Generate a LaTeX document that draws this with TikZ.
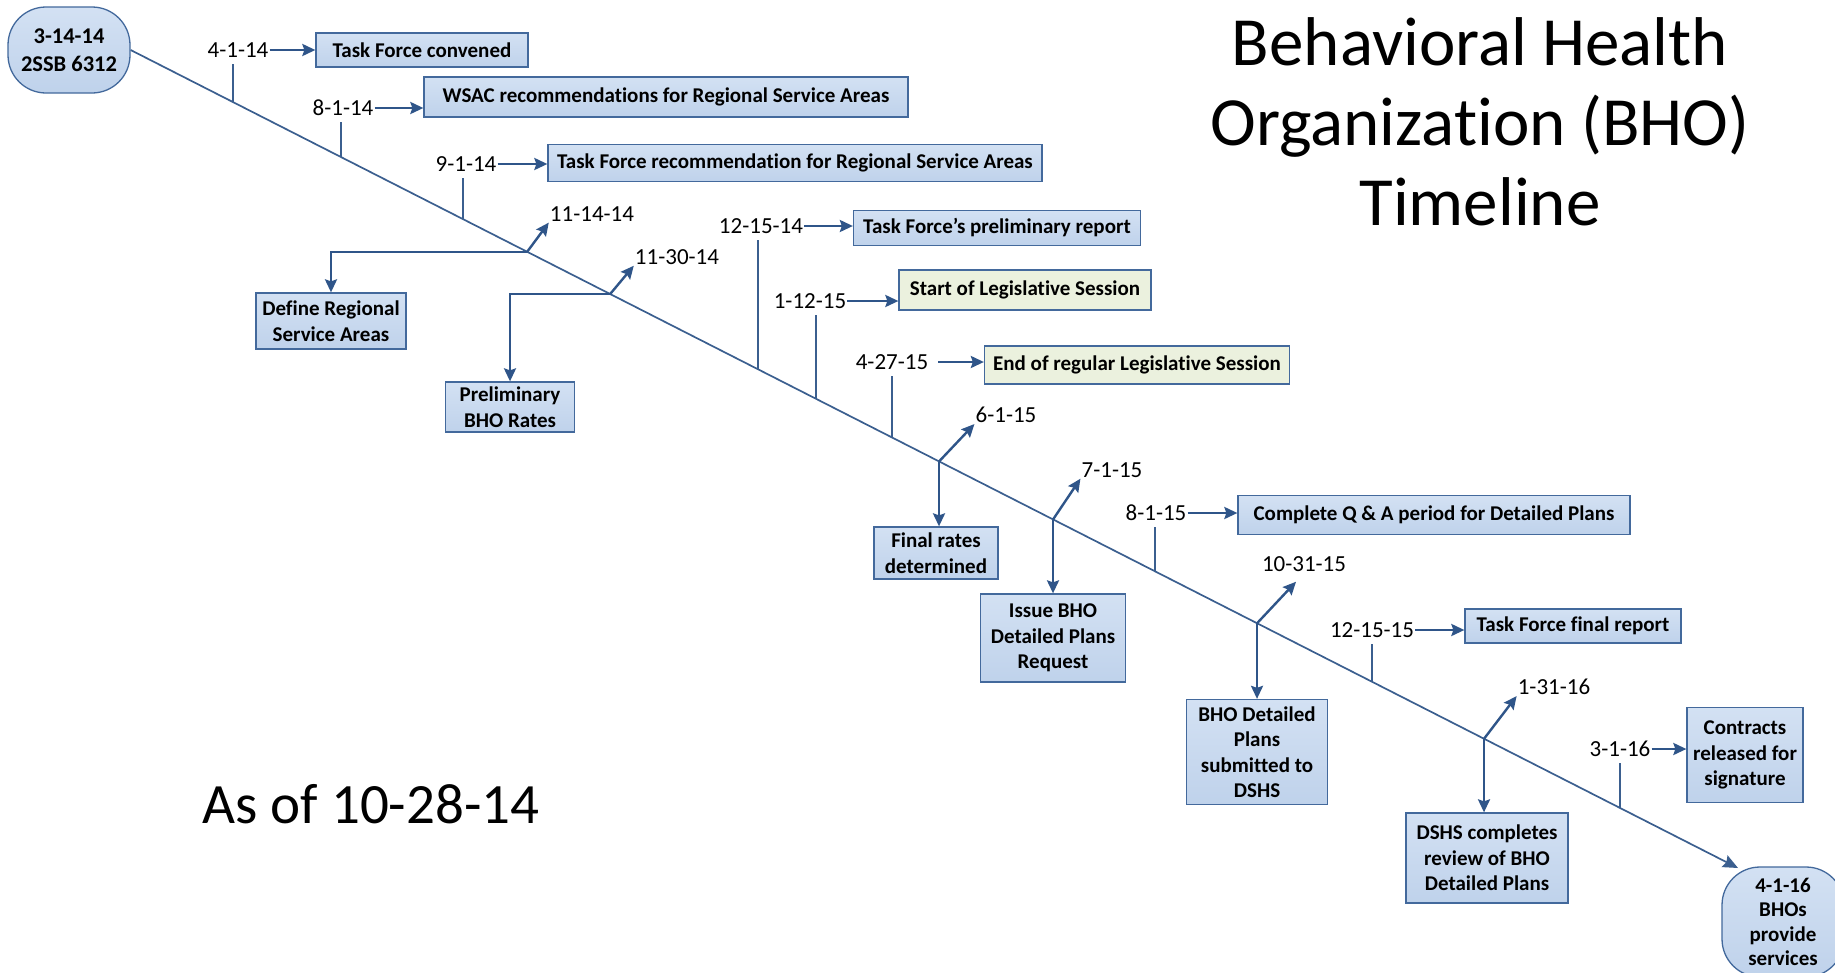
\documentclass[tikz,border=0pt]{standalone}
\usepackage{fontspec}
\setmainfont{Carlito}[Ligatures={NoCommon}]
\usetikzlibrary{arrows.meta,calc}
\definecolor{linec}{HTML}{3B5F8F}
\definecolor{arrc}{HTML}{2F5589}
\definecolor{bordc}{HTML}{43699C}
\definecolor{filltop}{HTML}{D3E1F3}
\definecolor{fillbot}{HTML}{BFD2EB}
\definecolor{greenf}{HTML}{EBF1DE}
\newcommand\boxfont{\fontsize{21}{25.5}\selectfont\bfseries}
\newcommand\datefont{\fontsize{23}{27}\selectfont}
\begin{document}
\begin{tikzpicture}[x=1pt,y=-1pt,
  box/.style={draw=bordc, line width=1.3pt, top color=filltop, bottom color=fillbot, font=\boxfont, align=center, inner sep=0pt},
  gbox/.style={box, top color=greenf, bottom color=greenf},
  term/.style={box, rounded corners=38pt},
  date/.style={font=\datefont, inner sep=1pt},
  mainln/.style={draw=linec, line width=1.7pt},
  tickln/.style={draw=linec, line width=1.4pt},
  arr/.style={draw=arrc, line width=2.4pt, -{Stealth[length=13pt,width=12pt,inset=2pt]}},
]
\useasboundingbox (0,0) rectangle (1835,972);
\fill[white] (0,0) rectangle (1835,972);

% title and note
\node[font=\fontsize{69}{80}\selectfont, align=center] (title) at (1480,122) {Behavioral Health\\Organization (BHO)\\Timeline};
\node[font=\fontsize{57}{60}\selectfont] (asof) at (371,804) {As of 10-28-14};

% terminals and main line
\node[term, minimum width=122, minimum height=86, font=\fontsize{22.5}{28}\selectfont\bfseries] (start) at (69,50) {3-14-14\\2SSB 6312};
\node[term, minimum width=122, minimum height=110, font=\fontsize{21}{24.5}\selectfont\bfseries] (endn) at (1783,922) {4-1-16\\BHOs\\provide\\services};
\coordinate (tip) at (1738,868);
\draw[mainln, -{Stealth[length=15pt,width=13pt,inset=2pt]}] (start.east) -- (tip);

% 4-1-14
\node[date] (d1) at (238,50) {4-1-14};
\node[box, minimum width=212, minimum height=34] (b1) at (422,50) {Task Force convened};
\draw[arr] (d1.east) -- (d1.east -| b1.west);
\coordinate (p1) at (233,102.4);
\draw[tickln] (p1) -- ($(p1 |- d1.south)+(0,5)$);

% 8-1-14
\node[date] (d2) at (343,108) {8-1-14};
\node[box, minimum width=484, minimum height=40] (b2) at (666,97) {WSAC recommendations for Regional Service Areas};
\draw[arr] (d2.east) -- (d2.east -| b2.west);
\coordinate (p2) at (341,157.3);
\draw[tickln] (p2) -- ($(p2 |- d2.south)+(0,5)$);

% 9-1-14
\node[date] (d3) at (466,164) {9-1-14};
\node[box, minimum width=494, minimum height=37] (b3) at (795,163) {Task Force recommendation for Regional Service Areas};
\draw[arr] (d3.east) -- (d3.east -| b3.west);
\coordinate (p3) at (463,219.4);
\draw[tickln] (p3) -- ($(p3 |- d3.south)+(0,5)$);

% 11-14-14
\coordinate (j4) at (527,252);
\node[date] (l4) at (592,214) {11-14-14};
\draw[arr] (j4) -- (l4.south west);
\node[box, minimum width=150, minimum height=56] (b4) at (331,321) {Define Regional\\Service Areas};
\draw[arr] (j4) -| (b4.north);

% 11-30-14
\coordinate (j5) at (610,294.2);
\node[date] (l5) at (677,257) {11-30-14};
\draw[arr] (j5) -- (l5.south west);
\node[box, minimum width=129, minimum height=50] (b5) at (510,407) {Preliminary\\BHO Rates};
\draw[arr] (j5) -| (b5.north);

% 12-15-14
\node[date] (d6) at (761,226) {12-15-14};
\node[box, minimum width=287, minimum height=35] (b6) at (997,228) {Task Force’s preliminary report};
\draw[arr] (d6.east) -- (d6.east -| b6.west);
\coordinate (p6) at (758,369.5);
\draw[tickln] (p6) -- ($(p6 |- d6.south)+(0,5)$);

% 1-12-15
\node[date] (d7) at (810,301) {1-12-15};
\node[gbox, minimum width=252, minimum height=40] (b7) at (1025,290) {Start of Legislative Session};
\draw[arr] (d7.east) -- (d7.east -| b7.west);
\coordinate (p7) at (816,399);
\draw[tickln] (p7) -- ($(p7 |- d7.south)+(0,5)$);

% 4-27-15
\node[date] (d8) at (892,362) {4-27-15};
\node[gbox, minimum width=305, minimum height=38] (b8) at (1137,365) {End of regular Legislative Session};
\draw[arr] ([xshift=9pt]d8.east) -- (d8.east -| b8.west);
\coordinate (p8) at (892,437.6);
\draw[tickln] (p8) -- ($(p8 |- d8.south)+(0,5)$);

% 6-1-15
\coordinate (j9) at (939,461.5);
\node[date] (l9) at (1006,415) {6-1-15};
\draw[arr] (j9) -- (l9.south west);
\node[box, minimum width=124, minimum height=52] (b9) at (936,553) {Final rates\\determined};
\draw[arr] (j9) -- (j9 |- b9.north);

% 7-1-15
\coordinate (j10) at (1053,519.5);
\node[date] (l10) at (1112,470) {7-1-15};
\draw[arr] (j10) -- (l10.south west);
\node[box, minimum width=145, minimum height=88] (b10) at (1053,638) {Issue BHO\\Detailed Plans\\Request};
\draw[arr] (j10) -- (j10 |- b10.north);

% 8-1-15
\node[date] (d11) at (1156,513) {8-1-15};
\node[box, minimum width=392, minimum height=39] (b11) at (1434,515) {Complete Q \& A period for Detailed Plans};
\draw[arr] (d11.east) -- (d11.east -| b11.west);
\coordinate (p11) at (1155,571.4);
\draw[tickln] (p11) -- ($(p11 |- d11.south)+(0,5)$);

% 10-31-15
\coordinate (j12) at (1257,623.3);
\node[date] (l12) at (1304,564) {10-31-15};
\draw[arr] (j12) -- ($(l12.south)+(-8,9)$);
\node[box, minimum width=141, minimum height=105] (b12) at (1257,752) {BHO Detailed\\Plans\\submitted to\\DSHS};
\draw[arr] (j12) -- (j12 |- b12.north);

% 12-15-15
\node[date] (d13) at (1372,630) {12-15-15};
\node[box, minimum width=216, minimum height=34] (b13) at (1573,626) {Task Force final report};
\draw[arr] (d13.east) -- (d13.east -| b13.west);
\coordinate (p13) at (1372,681.8);
\draw[tickln] (p13) -- ($(p13 |- d13.south)+(0,5)$);

% 1-31-16
\coordinate (j14) at (1484,738.8);
\node[date] (l14) at (1554,687) {1-31-16};
\draw[arr] (j14) -- (l14.south west);
\node[box, minimum width=162, minimum height=90] (b14) at (1487,858) {DSHS completes\\review of BHO\\Detailed Plans};
\draw[arr] (j14) -- (j14 |- b14.north);

% 3-1-16
\node[date] (d15) at (1620,749) {3-1-16};
\node[box, minimum width=116, minimum height=95] (b15) at (1745,755) {Contracts\\released for\\signature};
\draw[arr] (d15.east) -- (d15.east -| b15.west);
\coordinate (p15) at (1620,808);
\draw[tickln] (p15) -- ($(p15 |- d15.south)+(0,5)$);
\end{tikzpicture}
\end{document}
